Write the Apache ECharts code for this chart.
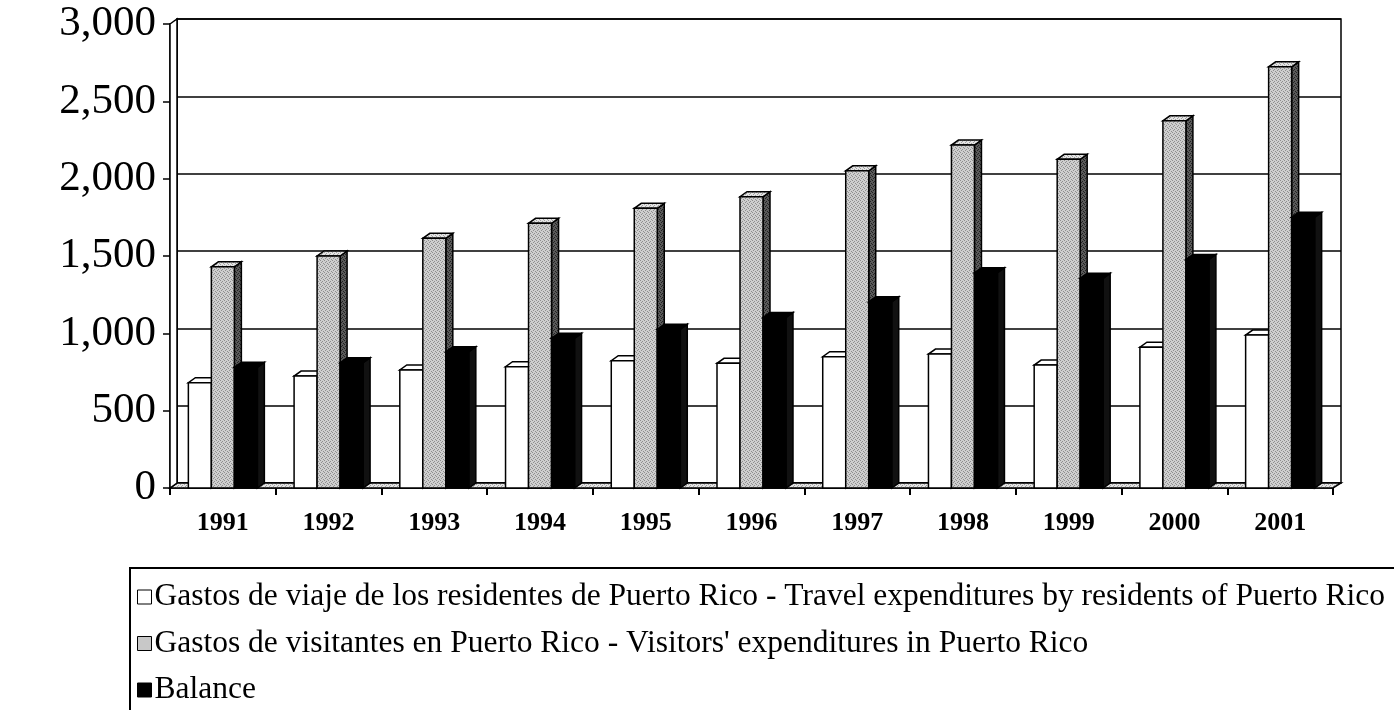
<!DOCTYPE html>
<html>
<head>
<meta charset="utf-8">
<script src="https://cdn.jsdelivr.net/npm/echarts@6/dist/echarts.min.js"></script>
<style>
  html, body { margin: 0; padding: 0; background: #fff; }
  #main { width: 1394px; height: 710px; }
</style>
</head>
<body>
<div id="main"></div>
<script>
var years = ['1991', '1992', '1993', '1994', '1995', '1996', '1997', '1998', '1999', '2000', '2001'];
var residentes = [681, 724, 763, 784, 823, 806, 849, 866, 795, 910, 989];
var visitantes = [1430, 1500, 1614, 1711, 1808, 1883, 2051, 2217, 2125, 2374, 2723];
var balance = [780, 810, 881, 968, 1026, 1103, 1204, 1392, 1356, 1478, 1750];
var yTicks = [0, 500, 1000, 1500, 2000, 2500, 3000];

var names = [
  'Gastos de viaje de los residentes de Puerto Rico - Travel expenditures by residents of Puerto Rico',
  'Gastos de visitantes en Puerto Rico - Visitors\' expenditures in Puerto Rico',
  'Balance'
];

var serif = "'Liberation Serif', 'Times New Roman', serif";

// depth of the 3d effect
var DX = 7, DY = 5, BW = 23;

// stipple texture for the grey bars
function stipple(a, b) {
  var c = document.createElement('canvas');
  c.width = 4; c.height = 4;
  var ctx = c.getContext('2d');
  ctx.fillStyle = a; ctx.fillRect(0, 0, 4, 4);
  ctx.fillStyle = b;
  ctx.fillRect(0, 0, 1, 1); ctx.fillRect(2, 1, 1, 1);
  ctx.fillRect(1, 2, 1, 1); ctx.fillRect(3, 3, 1, 1);
  return { image: c, repeat: 'repeat' };
}
var greyFront = stipple('#cfcfcf', '#8f8f8f');
var greyTop = stipple('#e4e4e4', '#a0a0a0');
var greySide = stipple('#5a5a5a', '#222');

var faces = [
  { front: '#fff', top: '#fff', side: '#fff' },
  { front: greyFront, top: greyTop, side: greySide },
  { front: '#000', top: '#000', side: '#111' }
];

function makeRender(k, offset) {
  return function (params, api) {
    var v = api.value(1);
    var p = api.coord([api.value(0), v]);
    var b = api.coord([api.value(0), 0]);
    var x0 = p[0] + offset - BW / 2, x1 = x0 + BW;
    var y0 = p[1], yb = b[1];
    var st = { stroke: '#000', lineWidth: 1.5 };
    return {
      type: 'group',
      children: [
        { type: 'polygon', shape: { points: [[x1, y0], [x1 + DX, y0 - DY], [x1 + DX, yb - DY], [x1, yb]] },
          style: Object.assign({ fill: faces[k].side }, st) },
        { type: 'polygon', shape: { points: [[x0, y0], [x1, y0], [x1 + DX, y0 - DY], [x0 + DX, y0 - DY]] },
          style: Object.assign({ fill: faces[k].top }, st) },
        { type: 'rect', shape: { x: x0, y: y0, width: BW, height: yb - y0 },
          style: Object.assign({ fill: faces[k].front }, st) }
      ]
    };
  };
}

function toPairs(arr) {
  return arr.map(function (v, i) { return [i, v]; });
}

var seriesData = [residentes, visitantes, balance];
var legendColors = ['#fff', '#c8c8c8', '#000'];

var series = seriesData.map(function (d, k) {
  return {
    name: names[k],
    type: 'custom',
    xAxisIndex: 1,
    yAxisIndex: 1,
    renderItem: makeRender(k, (k - 1) * BW),
    itemStyle: { color: legendColors[k], borderColor: '#000', borderWidth: 1 },
    encode: { x: 0, y: 1 },
    data: toPairs(d),
    z: 3
  };
});

// layout of the front and back planes
var F = { left: 170, right: 61, top: 24, bottom: 222 };
var B = { left: 177, right: 53, top: 19, bottom: 227 };
var W = 1394, H = 710;

var myChart = echarts.init(document.getElementById('main'));

var option = {
  animation: false,
  backgroundColor: '#fff',
  grid: [
    { left: B.left, right: B.right, top: B.top, bottom: B.bottom, show: true, borderColor: '#000', borderWidth: 1.5 },
    { left: F.left, right: F.right, top: F.top, bottom: F.bottom }
  ],
  xAxis: [
    { gridIndex: 0, type: 'category', data: years, show: false },
    {
      gridIndex: 1, type: 'category', data: years,
      axisLine: { lineStyle: { color: '#000', width: 1.5 } },
      axisTick: { show: true, length: 7, lineStyle: { color: '#000', width: 2 } },
      axisLabel: { color: '#000', fontFamily: serif, fontWeight: 'bold', fontSize: 26, margin: 22 }
    }
  ],
  yAxis: [
    {
      gridIndex: 0, type: 'value', min: 0, max: 3000, interval: 500,
      axisLine: { show: true, lineStyle: { color: '#000', width: 1.5 } },
      axisTick: { show: false }, axisLabel: { show: false },
      splitLine: { show: true, lineStyle: { color: '#000', width: 1.5 } }
    },
    {
      gridIndex: 1, type: 'value', min: 0, max: 3000, interval: 500,
      axisLine: { show: true, lineStyle: { color: '#000', width: 1.5 } },
      axisTick: { show: true, length: 7, lineStyle: { color: '#000', width: 1.5 } },
      splitLine: { show: false },
      axisLabel: {
        color: '#000', fontFamily: serif, fontSize: 43, margin: 14,
        formatter: function (v) { return yTicks.indexOf(v) >= 0 ? v.toLocaleString('en-US') : ''; }
      }
    }
  ],
  legend: {
    orient: 'vertical',
    left: 130,
    top: 568,
    width: 1400,
    height: 400,
    padding: [13, 30, 10, 7],
    itemGap: 14.5,
    itemWidth: 14,
    itemHeight: 14,
    icon: 'rect',
    borderColor: '#000',
    borderWidth: 2,
    backgroundColor: '#fff',
    itemStyle: { borderColor: '#000', borderWidth: 1 },
    textStyle: { color: '#000', fontFamily: serif, fontSize: 31.5, lineHeight: 28, padding: [0, 0, 0, -2] },
    data: names
  },
  graphic: [
    // floor
    {
      type: 'polygon', z: 1,
      shape: { points: [[F.left, H - F.bottom], [W - F.right, H - F.bottom], [W - B.right, H - B.bottom], [B.left, H - B.bottom]] },
      style: { fill: greyTop, stroke: '#000', lineWidth: 1.5 }
    },
    // left wall
    {
      type: 'polygon', z: 1,
      shape: { points: [[F.left, F.top], [B.left, B.top], [B.left, H - B.bottom], [F.left, H - F.bottom]] },
      style: { fill: '#fff', stroke: '#000', lineWidth: 1.5 }
    }
  ],
  series: series
};

myChart.setOption(option);
</script>
</body>
</html>
